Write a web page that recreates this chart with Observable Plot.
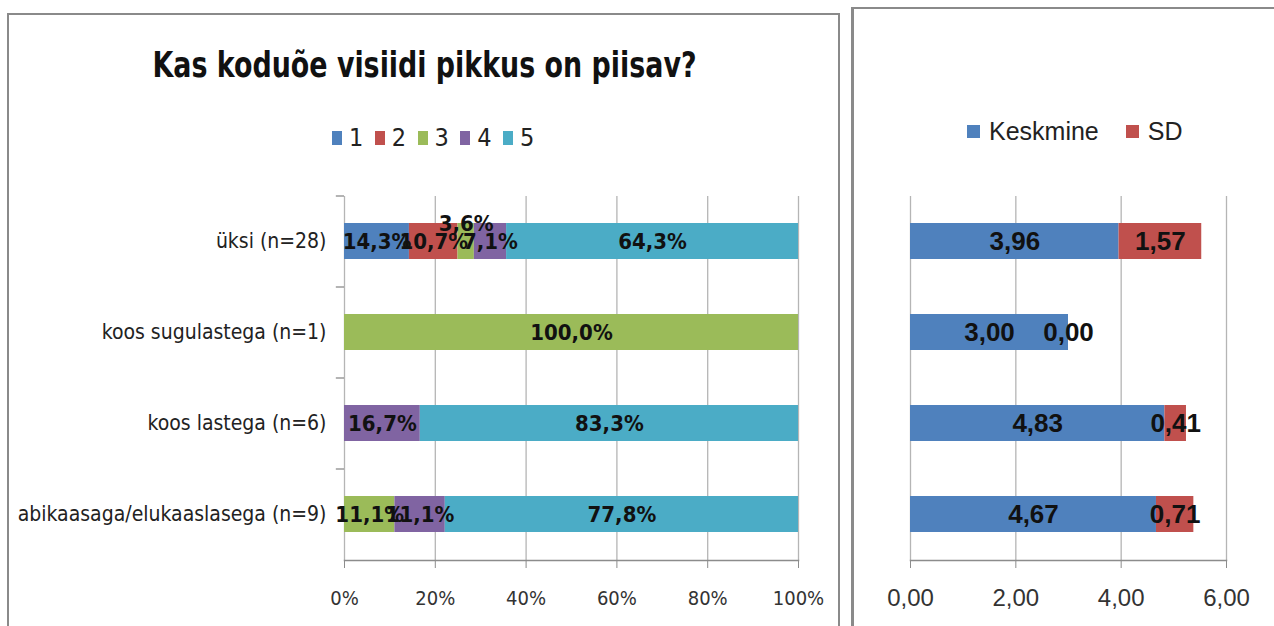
<!DOCTYPE html>
<html>
<head>
<meta charset="utf-8">
<script src="https://cdn.jsdelivr.net/npm/d3@7"></script>
<script src="https://cdn.jsdelivr.net/npm/@observablehq/plot@0.6"></script>
<style>
  html, body { margin: 0; padding: 0; background: #fff; }
  body { width: 1274px; height: 626px; position: relative; overflow: hidden;
         font-family: "Liberation Sans Narrow", "DejaVu Sans Condensed", "Arial Narrow", sans-serif; }
  .panel { position: absolute; box-sizing: border-box; background: #fff; }
  #pLeft { left: 7px; top: 13px; width: 833px; height: 640px; border: 2px solid #8a8a8a; }
  #pRight { left: 851px; top: 7px; width: 440px; height: 640px; border-left: 3px solid #8a8a8a; border-top: 2px solid #8a8a8a; }
  #titleWrap { position: absolute; left: 0; width: 850px; top: 45px; text-align: center; }
  #title { display: inline-block; font-weight: bold; font-size: 35px; color: #111; transform-origin: 50% 50%; white-space: nowrap; }
  .legend { position: absolute; display: flex; align-items: center; color: #222; }
  .legend .sw { display: inline-block; }
  #legLeft { left: 332px; top: 123px; font-size: 25px; }
  #legLeft .sw { width: 10px; height: 14px; margin-right: 7px; }
  #legLeft .item { width: 42.75px; display: flex; align-items: center; }
  #legRight { left: 967px; top: 117px; font-size: 25px; font-family: "Liberation Sans", Arial, sans-serif; }
  #legRight .sw { width: 13px; height: 13px; margin-right: 9px; }
  #legRight .item { margin-right: 27px; display: flex; align-items: center; }
  #chartLeft { position: absolute; left: 0; top: 180px; }
  #chartRight { position: absolute; left: 852px; top: 180px; }
</style>
</head>
<body>
<div class="panel" id="pLeft"></div>
<div class="panel" id="pRight"></div>
<div id="titleWrap"><span id="title"></span></div>
<div class="legend" id="legLeft"></div>
<div class="legend" id="legRight"></div>
<div id="chartLeft"></div>
<div id="chartRight"></div>
<script>
// ---- data ----
const titleText = "Kas koduõe visiidi pikkus on piisav?";
const categories = ["üksi (n=28)", "koos sugulastega (n=1)", "koos lastega (n=6)", "abikaasaga/elukaaslasega (n=9)"];
const ratings = ["1", "2", "3", "4", "5"];
const rating1 = [14.3, 0, 0, 0];
const rating2 = [10.7, 0, 0, 0];
const rating3 = [3.6, 100.0, 0, 11.1];
const rating4 = [7.1, 0, 16.7, 11.1];
const rating5 = [64.3, 0, 83.3, 77.8];
const pctTicks = [0, 20, 40, 60, 80, 100];
const statNames = ["Keskmine", "SD"];
const means = [3.96, 3.00, 4.83, 4.67];
const sds = [1.57, 0.00, 0.41, 0.71];
const statTicks = [0, 2, 4, 6];

const ratingColors = ["#4F81BD", "#C0504D", "#9BBB59", "#8064A2", "#4BACC6"];
const statColors = ["#4F81BD", "#C0504D"];

const fontFam = '"Liberation Sans Narrow", "DejaVu Sans Condensed", "Arial Narrow", sans-serif';
const wideFam = '"Liberation Sans", Arial, sans-serif';

// ---- HTML title & legends ----
const titleEl = document.getElementById("title");
titleEl.textContent = titleText;
const tw = titleEl.getBoundingClientRect().width;
titleEl.style.transform = `scaleX(${544 / tw})`;

const legL = document.getElementById("legLeft");
ratings.forEach((r, i) => {
  const it = document.createElement("span"); it.className = "item";
  it.innerHTML = `<span class="sw" style="background:${ratingColors[i]}"></span>${r}`;
  legL.appendChild(it);
});
const legR = document.getElementById("legRight");
statNames.forEach((s, i) => {
  const it = document.createElement("span"); it.className = "item";
  it.innerHTML = `<span class="sw" style="background:${statColors[i]}"></span>${s}`;
  legR.appendChild(it);
});

// ---- tables ----
const series = [rating1, rating2, rating3, rating4, rating5];
const pctData = [];
categories.forEach((c, ci) => ratings.forEach((r, ri) => pctData.push({cat: c, rating: r, value: series[ri][ci]})));
const statData = [];
categories.forEach((c, ci) => {
  statData.push({cat: c, stat: "Keskmine", value: means[ci]});
  statData.push({cat: c, stat: "SD", value: sds[ci]});
});

const fmtPct = v => v.toFixed(1).replace(".", ",") + "%";
const fmtNum = v => v.toFixed(2).replace(".", ",");
const isRaised = d => d.cat === categories[0] && d.rating === "3";

const gridColor = "#b5b5b5";
const axisColor = "#8c8c8c";
const H = 446, MT = 16, MB = 66;

const yScale = {domain: categories, paddingInner: 0.6, paddingOuter: 0.3};

// ---- left chart ----
const left = Plot.plot({
  width: 840, height: H,
  marginLeft: 344, marginRight: 42, marginTop: MT, marginBottom: MB,
  style: {fontFamily: fontFam, background: "transparent", overflow: "visible"},
  x: {domain: [0, 100]},
  y: yScale,
  color: {domain: ratings, range: ratingColors},
  marks: [
    Plot.ruleX(pctTicks, {stroke: gridColor, strokeWidth: 1.3}),
    Plot.ruleY(categories, {y: d => d, x1: -1.8, x2: 0, dy: -45.5, stroke: axisColor, strokeWidth: 1.3}),
    Plot.frame({anchor: "bottom", stroke: axisColor, strokeWidth: 1.5}),
    Plot.barX(pctData, Plot.stackX({x: "value", y: "cat", z: "rating", fill: "rating"})),
    Plot.text(pctData, Plot.stackX({x: "value", y: "cat", z: "rating",
      text: d => d.value > 0 && !isRaised(d) ? fmtPct(d.value) : "",
      fontSize: 22, fontWeight: "bold", fill: "#111"})),
    Plot.text(pctData, Plot.stackX({x: "value", y: "cat", z: "rating",
      text: d => isRaised(d) ? fmtPct(d.value) : "",
      dy: -18, fontSize: 22, fontWeight: "bold", fill: "#111"})),
    Plot.axisX({ticks: pctTicks, tickFormat: d => d + "%", tickSize: 8, tickPadding: 22,
      stroke: axisColor, fill: "#333", fontSize: 20, label: null}),
    Plot.axisY({tickSize: 0, tickPadding: 18, fill: "#222", fontSize: 21, label: null})
  ]
});
document.getElementById("chartLeft").appendChild(left);

// ---- right chart ----
const right = Plot.plot({
  width: 422, height: H,
  marginLeft: 58, marginRight: 48, marginTop: MT, marginBottom: MB,
  style: {fontFamily: fontFam, background: "transparent", overflow: "visible"},
  x: {domain: [0, 6]},
  y: yScale,
  color: {domain: statNames, range: statColors},
  marks: [
    Plot.ruleX(statTicks, {stroke: gridColor, strokeWidth: 1.3}),
    Plot.frame({anchor: "bottom", stroke: axisColor, strokeWidth: 1.5}),
    Plot.barX(statData, Plot.stackX({x: "value", y: "cat", z: "stat", fill: "stat"})),
    Plot.text(statData, Plot.stackX({x: "value", y: "cat", z: "stat",
      text: d => fmtNum(d.value), fontSize: 26, fontWeight: "bold", fill: "#111",
      fontFamily: wideFam})),
    Plot.axisX({ticks: statTicks, tickFormat: fmtNum, tickSize: 8, tickPadding: 20,
      stroke: axisColor, fill: "#333", fontSize: 24, label: null,
      fontFamily: wideFam}),
    Plot.axisY({ticks: [], label: null})
  ]
});
document.getElementById("chartRight").appendChild(right);
</script>
</body>
</html>
